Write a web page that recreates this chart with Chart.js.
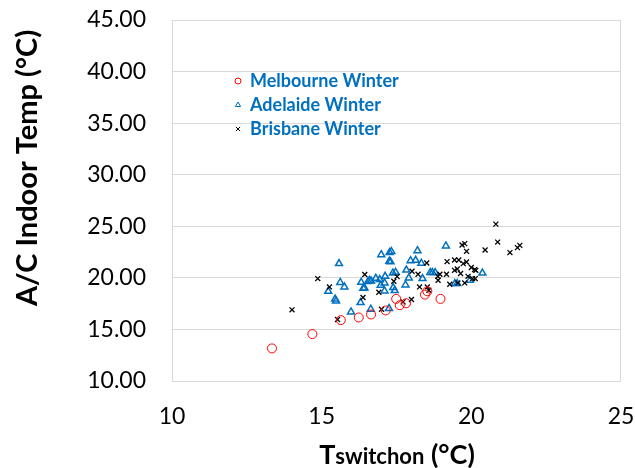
<!DOCTYPE html>
<html>
<head>
<meta charset="utf-8">
<script src="https://cdn.jsdelivr.net/npm/chart.js@4.4.1/dist/chart.umd.min.js"></script>
<style>
  html, body { margin: 0; padding: 0; background: #fff; }
  #wrap { width: 635px; height: 468px; }
</style>
</head>
<body>
<div id="wrap"><canvas id="scatter" width="635" height="468"></canvas></div>
<script>
// Données
const seriesNames = ['Melbourne Winter', 'Adelaide Winter', 'Brisbane Winter'];

const melbourneX = [13.34, 14.69, 15.64, 16.24, 16.65, 17.14, 17.49, 17.61, 17.82, 18.45, 18.53, 18.97];
const melbourneY = [13.16, 14.55, 15.90, 16.16, 16.45, 16.84, 17.96, 17.35, 17.54, 18.38, 18.70, 17.96];

const adelaideX = [15.58, 15.62, 15.76, 15.22, 15.45, 15.48, 15.98, 16.32, 16.43, 16.30, 16.55, 16.60,
  16.65, 16.81, 16.94, 16.99, 17.27, 17.33, 17.26, 17.30, 17.12, 17.10, 16.97, 17.10, 16.64, 17.25,
  18.20, 17.97, 18.14, 18.33, 19.15, 17.83, 17.47, 17.38, 17.39, 17.44, 17.80, 17.91, 18.37, 18.63,
  18.70, 18.79, 20.37, 19.95, 19.45, 19.53, 16.39];
const adelaideY = [21.38, 19.55, 19.12, 18.70, 17.95, 17.75, 16.70, 19.57, 19.02, 17.60, 19.65, 19.75,
  19.70, 19.96, 19.83, 22.25, 22.45, 22.55, 21.60, 21.55, 20.15, 19.51, 19.28, 18.73, 16.96, 17.03,
  22.64, 21.67, 21.70, 21.41, 23.09, 20.76, 20.54, 20.47, 19.06, 18.77, 19.31, 19.99, 19.93, 20.51,
  20.51, 20.51, 20.47, 19.77, 19.45, 19.45, 19.00];

const brisbaneX = [14.01, 14.87, 15.26, 15.53, 16.44, 16.38, 16.91, 17.00, 17.72, 18.00, 17.41, 17.52,
  18.02, 18.22, 18.51, 18.27, 18.53, 18.58, 18.88, 18.89, 18.95, 19.19, 19.17, 19.28, 19.44, 19.58,
  19.44, 19.53, 19.64, 19.55, 19.69, 19.78, 19.84, 19.73, 19.84, 19.78, 19.89, 20.00, 20.11, 20.15,
  20.04, 20.13, 20.46, 20.82, 20.88, 21.29, 21.54, 21.62];
const brisbaneY = [16.90, 19.93, 19.12, 15.96, 20.32, 18.09, 18.61, 16.96, 17.67, 17.90, 19.67, 20.12,
  20.64, 20.35, 21.44, 19.12, 19.12, 18.80, 20.15, 19.77, 20.35, 21.58, 20.35, 19.38, 21.73, 21.73,
  20.73, 20.86, 20.42, 19.51, 23.18, 23.32, 22.57, 21.38, 21.54, 19.51, 20.15, 21.00, 20.80, 20.73,
  19.93, 19.93, 22.70, 25.21, 23.47, 22.45, 22.93, 23.15];

const xTicks = [10, 15, 20, 25];
const yTicks = [10, 15, 20, 25, 30, 35, 40, 45];

const FONT = 'Lato, "Open Sans", sans-serif';
const BLUE = '#0070C0';

function toPoints(xs, ys) {
  return xs.map((x, i) => ({ x: x, y: ys[i] }));
}

// Cadre de la zone de tracé
const framePlugin = {
  id: 'frame',
  beforeDatasetsDraw(chart) {
    const { ctx, chartArea: a } = chart;
    ctx.save();
    ctx.strokeStyle = '#D9D9D9';
    ctx.lineWidth = 1;
    ctx.strokeRect(a.left + 0.5, a.top + 0.5, a.right - a.left - 1, a.bottom - a.top);
    ctx.restore();
  }
};

// Légende dans la zone de tracé + titres des axes
const labelsPlugin = {
  id: 'labels',
  afterDraw(chart) {
    const ctx = chart.ctx;
    chart.data.datasets.forEach((ds, i) => {
      const y = 81 + i * 24;
      ctx.save();
      ctx.strokeStyle = ds.borderColor;
      ctx.fillStyle = ds.backgroundColor;
      ctx.lineWidth = 1;
      Chart.helpers.drawPoint(ctx, {
        pointStyle: ds.pointStyle,
        radius: 3,
        borderWidth: 1,
        rotation: 0
      }, 238, y);
      ctx.font = 'bold 18px ' + FONT;
      ctx.fillStyle = BLUE;
      ctx.textBaseline = 'middle';
      ctx.textAlign = 'left';
      ctx.fillText(ds.label, 250, y);
      ctx.restore();
    });

    // titre axe Y
    ctx.save();
    ctx.translate(28, 168);
    ctx.rotate(-Math.PI / 2);
    ctx.font = 'bold 29px ' + FONT;
    ctx.fillStyle = '#000';
    ctx.textAlign = 'center';
    ctx.textBaseline = 'middle';
    ctx.fillText('A/C Indoor Temp (°C)', 0, 0);
    ctx.restore();

    // titre axe X : T + indice "switchon"
    ctx.save();
    ctx.fillStyle = '#000';
    ctx.textBaseline = 'alphabetic';
    const big = 'bold 27px ' + FONT;
    const small = 'bold 22px ' + FONT;
    ctx.font = big;
    const w1 = ctx.measureText('T').width;
    const w3 = ctx.measureText(' (°C)').width;
    ctx.font = small;
    const w2 = ctx.measureText('switchon').width;
    let x = 397 - (w1 + w2 + w3) / 2;
    const base = 464;
    ctx.font = big;
    ctx.fillText('T', x, base);
    x += w1;
    ctx.font = small;
    ctx.fillText('switchon', x, base);
    x += w2;
    ctx.font = big;
    ctx.fillText(' (°C)', x, base);
    ctx.restore();
  }
};

const ctx = document.getElementById('scatter').getContext('2d');
new Chart(ctx, {
  type: 'scatter',
  data: {
    datasets: [{
      label: seriesNames[0],
      data: toPoints(melbourneX, melbourneY),
      pointStyle: 'circle',
      pointRadius: 4.5,
      borderColor: '#FF0000',
      backgroundColor: 'rgba(0,0,0,0)',
      borderWidth: 1,
      order: 1
    }, {
      label: seriesNames[1],
      data: toPoints(adelaideX, adelaideY),
      pointStyle: 'triangle',
      pointRadius: 4,
      borderColor: BLUE,
      backgroundColor: 'rgba(0,0,0,0)',
      borderWidth: 1.5,
      order: 3
    }, {
      label: seriesNames[2],
      data: toPoints(brisbaneX, brisbaneY),
      pointStyle: 'crossRot',
      pointRadius: 3.5,
      borderColor: '#000000',
      backgroundColor: '#000000',
      borderWidth: 1.3,
      order: 2
    }]
  },
  options: {
    responsive: false,
    animation: false,
    layout: { padding: { top: 20, right: 14, left: 0, bottom: 0 } },
    plugins: {
      legend: { display: false },
      tooltip: { enabled: false }
    },
    scales: {
      x: {
        type: 'linear',
        min: xTicks[0],
        max: xTicks[xTicks.length - 1],
        afterBuildTicks: (scale) => { scale.ticks = xTicks.map(v => ({ value: v })); },
        afterFit: (scale) => {
          scale.height = 87;
          scale.paddingLeft = 0;
          scale.paddingRight = 0;
        },
        grid: { display: false, drawTicks: false },
        border: { display: false },
        ticks: {
          padding: 22,
          color: '#000',
          font: { family: FONT, size: 23 }
        }
      },
      y: {
        type: 'linear',
        min: yTicks[0],
        max: yTicks[yTicks.length - 1],
        afterBuildTicks: (scale) => { scale.ticks = yTicks.map(v => ({ value: v })); },
        afterFit: (scale) => {
          scale.width = 172;
          scale.paddingTop = 0;
          scale.paddingBottom = 0;
        },
        grid: { color: '#D9D9D9', lineWidth: 1, drawTicks: false },
        border: { display: false },
        ticks: {
          padding: 26,
          color: '#000',
          font: { family: FONT, size: 23 },
          callback: (v) => Number(v).toFixed(2)
        }
      }
    }
  },
  plugins: [framePlugin, labelsPlugin]
});
</script>
</body>
</html>
